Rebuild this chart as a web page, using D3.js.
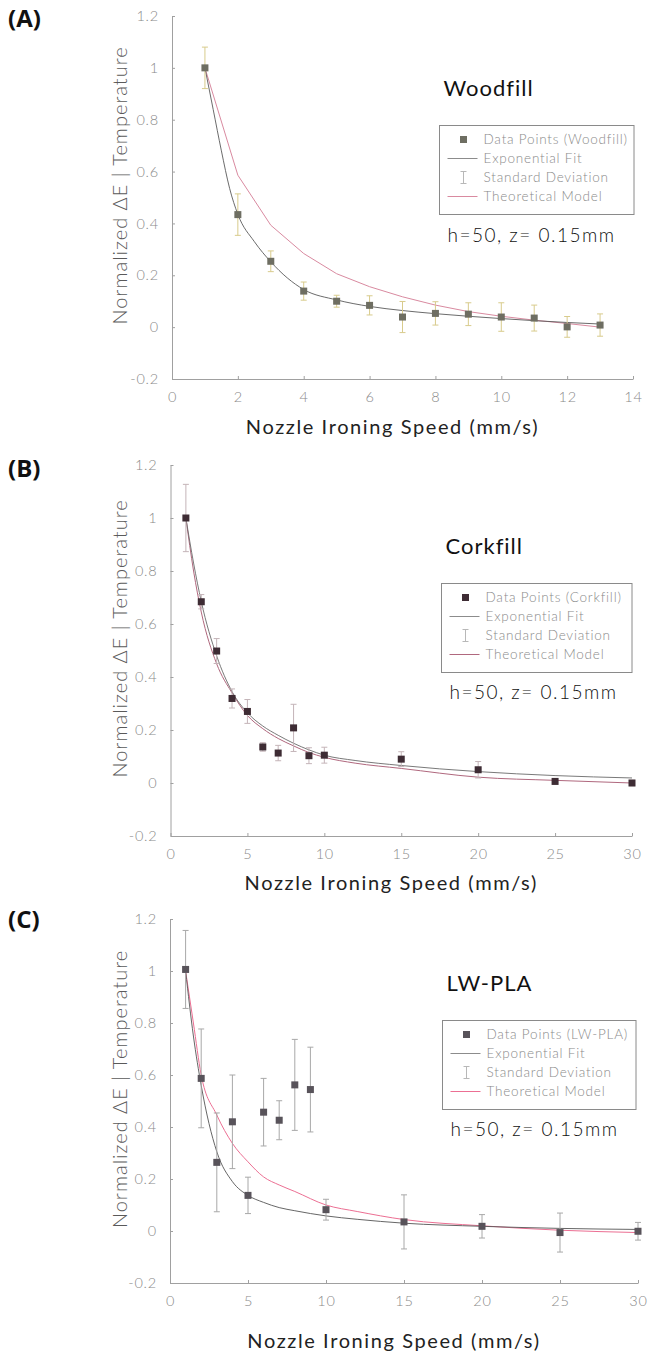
<!DOCTYPE html>
<html>
<head>
<meta charset="utf-8">
<script src="https://cdn.jsdelivr.net/npm/d3@7"></script>
<style>
  body { margin: 0; background: #fff; }
  svg text { font-family: Lato, "Open Sans", sans-serif; }
</style>
</head>
<body>
<svg id="chart" width="667" height="1352"></svg>
<script>
// (A) Woodfill
let woodSpeed = [1, 2, 3, 4, 5, 6, 7, 8, 9, 10, 11, 12, 13];
let woodMean = [1.0, 0.434, 0.254, 0.139, 0.100, 0.084, 0.039, 0.053, 0.050, 0.039, 0.035, 0.001, 0.008];
let woodSD = [0.08, 0.08, 0.04, 0.035, 0.023, 0.037, 0.06, 0.045, 0.044, 0.055, 0.05, 0.04, 0.043];
let woodFitX = [1, 1.25, 1.5, 1.75, 2, 2.5, 3, 3.5, 4, 5, 6, 7, 8, 9, 10, 11, 12, 13];
let woodFitY = [1.0, 0.84, 0.68, 0.535, 0.435, 0.33, 0.252, 0.19, 0.145, 0.105, 0.08, 0.064, 0.052, 0.042, 0.033, 0.025, 0.018, 0.012];
let woodModelX = [1, 2, 3, 4, 5, 6, 7, 8, 9, 10, 11, 12, 13];
let woodModelY = [1.0, 0.586, 0.393, 0.284, 0.206, 0.156, 0.117, 0.085, 0.060, 0.042, 0.027, 0.014, 0.0];

// (B) Corkfill
let corkSpeed = [1, 2, 3, 4, 5, 6, 7, 8, 9, 10, 15, 20, 25, 30];
let corkMean = [1.0, 0.684, 0.498, 0.319, 0.270, 0.136, 0.113, 0.208, 0.103, 0.105, 0.090, 0.050, 0.006, 0.0];
let corkSD = [0.127, 0.027, 0.047, 0.036, 0.045, 0.016, 0.029, 0.089, 0.03, 0.03, 0.028, 0.031, 0.01, 0.01];
let corkFitX = [1, 1.5, 2, 3, 4, 5, 6, 7, 8, 9, 10, 12, 15, 20, 25, 30];
let corkFitY = [1.0, 0.83, 0.685, 0.48, 0.345, 0.265, 0.215, 0.18, 0.15, 0.125, 0.105, 0.085, 0.066, 0.043, 0.028, 0.019];
let corkModelY = [1.0, 0.80, 0.645, 0.45, 0.34, 0.255, 0.205, 0.168, 0.14, 0.115, 0.097, 0.075, 0.055, 0.022, 0.01, 0.0];

// (C) LW-PLA
let lwSpeed = [1, 2, 3, 4, 5, 6, 7, 8, 9, 10, 15, 20, 25, 30];
let lwMean = [1.006, 0.587, 0.264, 0.420, 0.137, 0.457, 0.426, 0.562, 0.544, 0.082, 0.035, 0.018, -0.006, -0.001];
let lwSD = [0.15, 0.19, 0.19, 0.18, 0.07, 0.13, 0.075, 0.175, 0.163, 0.04, 0.104, 0.045, 0.075, 0.034];
let lwFitX = [1, 1.5, 2, 3, 4, 5, 6, 7, 8, 10, 12, 15, 20, 25, 30];
let lwFitY = [1.0, 0.75, 0.56, 0.305, 0.19, 0.137, 0.11, 0.09, 0.078, 0.058, 0.045, 0.03, 0.018, 0.01, 0.006];
let lwModelY = [1.0, 0.80, 0.60, 0.446, 0.337, 0.266, 0.208, 0.177, 0.152, 0.10, 0.075, 0.044, 0.02, 0.003, -0.006];

let yTicks = [-0.2, 0, 0.2, 0.4, 0.6, 0.8, 1, 1.2];
let legendLabels = ["Exponential Fit", "Standard Deviation", "Theoretical Model"];

let svg = d3.select("#chart");

let panels = [
    {tag: "(A)", name: "Woodfill", x: woodSpeed, mean: woodMean, sd: woodSD,
     fitX: woodFitX, fitY: woodFitY, modelX: woodModelX, modelY: woodModelY, modelCurve: d3.curveLinear,
     xMax: 14, xStep: 2, xRange: [172, 633], yRange: [379, 16], tagY: 27,
     box: [439.5, 125.5, 194.5, 89], titleY: 96, hY: 242, xLabelY: 434,
     mark: "#6e6e62", bar: "#d8cb8c", fit: "#5a5a5a", model: "#d98aa0"},
    {tag: "(B)", name: "Corkfill", x: corkSpeed, mean: corkMean, sd: corkSD,
     fitX: corkFitX, fitY: corkFitY, modelX: corkFitX, modelY: corkModelY, modelCurve: d3.curveMonotoneX,
     xMax: 30, xStep: 5, xRange: [170.5, 632], yRange: [836, 465], tagY: 477,
     box: [441.5, 583.5, 190.5, 89], titleY: 554, hY: 699, xLabelY: 890,
     mark: "#3e2c34", bar: "#c4b4b8", fit: "#6a6a6a", model: "#b0687e"},
    {tag: "(C)", name: "LW-PLA", x: lwSpeed, mean: lwMean, sd: lwSD,
     fitX: lwFitX, fitY: lwFitY, modelX: lwFitX, modelY: lwModelY, modelCurve: d3.curveMonotoneX,
     xMax: 30, xStep: 5, xRange: [170, 638], yRange: [1283, 919], tagY: 928,
     box: [442.5, 1020.5, 193.5, 89], titleY: 991, hY: 1136, xLabelY: 1348,
     mark: "#58535a", bar: "#a8a8a8", fit: "#555555", model: "#ec6f93"}
];

panels.forEach(drawPanel);

function drawPanel(p) {
    let xScale = d3.scaleLinear().domain([0, p.xMax]).range(p.xRange);
    let yScale = d3.scaleLinear().domain([-0.2, 1.2]).range(p.yRange);
    let g = svg.append("g");

    // axes
    let xTicks = d3.range(0, p.xMax + 0.001, p.xStep);
    let xAxis = g.append("g").attr("transform", "translate(0," + p.yRange[0] + ")")
        .call(d3.axisBottom(xScale).tickValues(xTicks).tickSizeInner(-3).tickSizeOuter(0).tickPadding(13));
    let yAxis = g.append("g").attr("transform", "translate(" + p.xRange[0] + ",0)")
        .call(d3.axisLeft(yScale).tickValues(yTicks).tickSizeInner(-3).tickSizeOuter(0).tickPadding(13)
            .tickFormat(d => d === 0 ? "0" : String(+d.toFixed(1))));
    [xAxis, yAxis].forEach(a => {
        a.select(".domain").attr("stroke", "#a0a0a0");
        a.selectAll(".tick line").attr("stroke", "#a0a0a0");
        a.selectAll(".tick text").attr("fill", "#8a8a8a").style("font-size", "14.5px")
            .style("font-weight", 300).style("letter-spacing", "0.8px");
    });

    // labels
    g.append("text").text(p.tag).attr("x", 8).attr("y", p.tagY)
        .style("font-family", "'Open Sans', sans-serif").style("font-size", "24px").style("font-weight", 700).attr("fill", "#111");
    let yMid = (p.yRange[0] + p.yRange[1]) / 2 - 12;
    g.append("text").text("Normalized ΔE | Temperature")
        .attr("transform", "translate(127," + yMid + ") rotate(-90)").attr("text-anchor", "middle")
        .style("font-size", "20px").style("font-weight", 300).style("letter-spacing", "1px").attr("fill", "#5a5a5a");
    g.append("text").text("Nozzle Ironing Speed (mm/s)")
        .attr("x", (p.xRange[0] + p.xRange[1]) / 2 - 10).attr("y", p.xLabelY).attr("text-anchor", "middle")
        .style("font-size", "20px").style("font-weight", 400).style("letter-spacing", "1.6px").attr("fill", "#222");
    g.append("text").text(p.name).attr("x", p.box[0] + 4).attr("y", p.titleY)
        .style("font-size", "22px").style("font-weight", 400).style("letter-spacing", "1px").attr("fill", "#111");
    g.append("text").text("h=50, z= 0.15mm").attr("x", p.box[0] + 8).attr("y", p.hY)
        .style("font-size", "19px").style("font-weight", 300).style("letter-spacing", "1.5px").attr("fill", "#111");

    // curves
    let fitPts = p.fitX.map((v, i) => [v, p.fitY[i]]);
    let modelPts = p.modelX.map((v, i) => [v, p.modelY[i]]);
    let line = d3.line().x(d => xScale(d[0])).y(d => yScale(d[1]));
    g.append("path").attr("d", line.curve(p.modelCurve)(modelPts))
        .attr("fill", "none").attr("stroke", p.model).attr("stroke-width", 1);
    g.append("path").attr("d", line.curve(d3.curveMonotoneX)(fitPts))
        .attr("fill", "none").attr("stroke", p.fit).attr("stroke-width", 0.9);

    // error bars
    let pts = p.x.map((v, i) => ({x: v, m: p.mean[i], s: p.sd[i]}));
    let bars = g.append("g").attr("stroke", p.bar).attr("stroke-width", 1);
    bars.selectAll("line.v").data(pts).enter().append("line")
        .attr("x1", d => xScale(d.x)).attr("x2", d => xScale(d.x))
        .attr("y1", d => yScale(d.m + d.s)).attr("y2", d => yScale(d.m - d.s));
    bars.selectAll("line.t").data(pts).enter().append("line")
        .attr("x1", d => xScale(d.x) - 3).attr("x2", d => xScale(d.x) + 3)
        .attr("y1", d => yScale(d.m + d.s)).attr("y2", d => yScale(d.m + d.s));
    bars.selectAll("line.b").data(pts).enter().append("line")
        .attr("x1", d => xScale(d.x) - 3).attr("x2", d => xScale(d.x) + 3)
        .attr("y1", d => yScale(d.m - d.s)).attr("y2", d => yScale(d.m - d.s));

    // markers
    g.append("g").selectAll("rect").data(pts).enter().append("rect")
        .attr("x", d => xScale(d.x) - 3.5).attr("y", d => yScale(d.m) - 3.5)
        .attr("width", 7).attr("height", 7).attr("fill", p.mark);

    // legend
    let [bx, by, bw, bh] = p.box;
    let lg = g.append("g");
    lg.append("rect").attr("x", bx).attr("y", by).attr("width", bw).attr("height", bh)
        .attr("fill", "#fff").attr("stroke", "#8a8a8a").attr("stroke-width", 1);
    let rows = ["Data Points (" + p.name + ")"].concat(legendLabels);
    rows.forEach((t, i) => {
        let ry = by + 14 + i * 19;
        lg.append("text").text(t).attr("x", bx + 44).attr("y", ry).attr("dy", "0.35em")
            .style("font-size", "13.5px").style("font-weight", 300).style("letter-spacing", "0.8px").attr("fill", "#8a8a8a");
        let cx = bx + 24;
        if (i === 0) {
            lg.append("rect").attr("x", cx - 3.5).attr("y", ry - 3.5).attr("width", 7).attr("height", 7).attr("fill", p.mark);
        } else if (i === 2) {
            lg.append("path").attr("d", "M" + (cx - 3) + "," + (ry - 6) + "h6M" + cx + "," + (ry - 6) + "v12M" + (cx - 3) + "," + (ry + 6) + "h6")
                .attr("stroke", "#b8b8b8").attr("fill", "none");
        } else {
            lg.append("line").attr("x1", bx + 8).attr("x2", bx + 38).attr("y1", ry).attr("y2", ry)
                .attr("stroke", i === 1 ? "#8c8c8c" : p.model);
        }
    });
}
</script>
</body>
</html>
